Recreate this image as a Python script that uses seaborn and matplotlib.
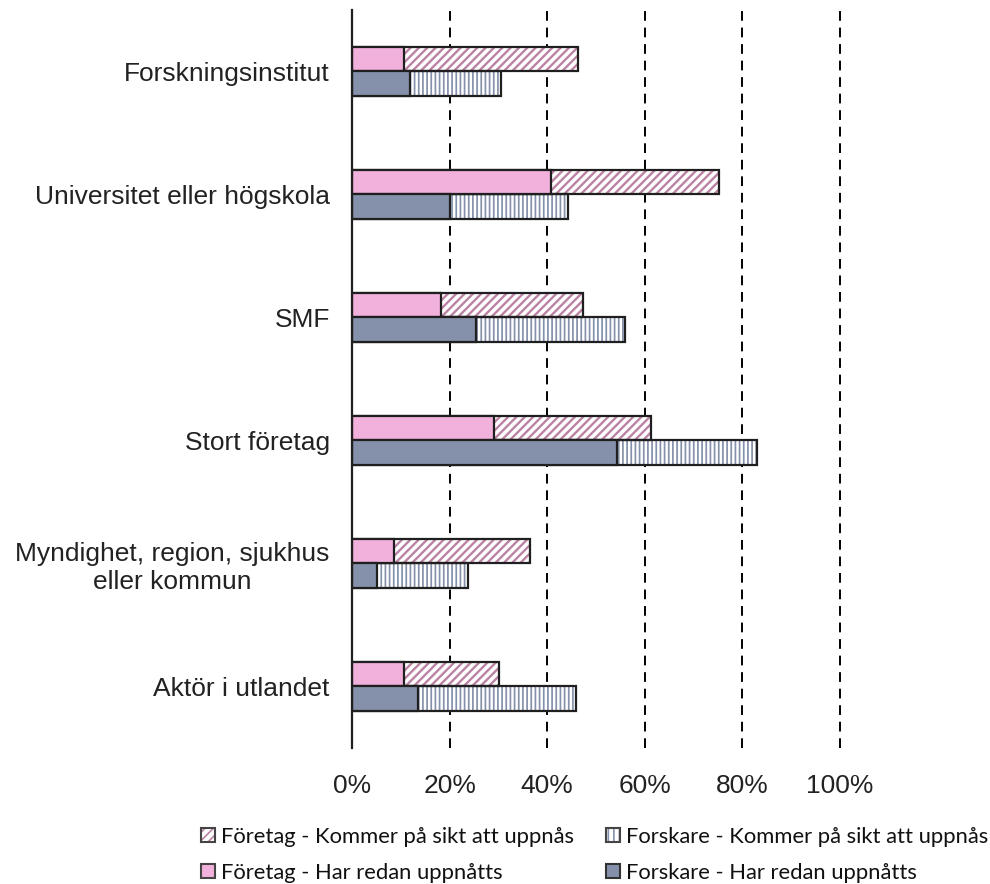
#!/usr/bin/env python3
"""
Samverkan: uppnått och förväntat, företag vs forskare
"""

import pandas as pd
import matplotlib.pyplot as plt
import seaborn as sns
from matplotlib.patches import Patch, Rectangle
from matplotlib.legend_handler import HandlerTuple
from matplotlib.ticker import PercentFormatter

# Data (andelar i %)
kategorier = ['Forskningsinstitut', 'Universitet eller högskola', 'SMF',
              'Stort företag', 'Myndighet, region, sjukhus\neller kommun',
              'Aktör i utlandet']
foretag_redan = [10.7, 40.8, 18.2, 29.1, 8.6, 10.7]
foretag_totalt = [46.3, 75.2, 47.3, 61.3, 36.5, 30.1]
forskare_redan = [11.9, 20.1, 25.4, 54.3, 5.1, 13.5]
forskare_totalt = [30.5, 44.3, 55.9, 83.0, 23.8, 45.9]
grupper = ['Företag', 'Forskare']

sns.set_theme(style='white')
plt.rcParams['font.family'] = ['Liberation Sans', 'DejaVu Sans']
plt.rcParams['hatch.linewidth'] = 1.2

PINK = '#F2B1DC'
PINK_HATCH = '#BC82A3'
BLUE = '#8591AB'
EDGE = '#1f1f1f'

df = pd.DataFrame({
    'kategori': kategorier * 2,
    'grupp': [grupper[0]] * 6 + [grupper[1]] * 6,
    'redan': foretag_redan + forskare_redan,
    'totalt': foretag_totalt + forskare_totalt,
})

fig = plt.figure(figsize=(9.9, 8.84), dpi=100)
ax = fig.add_axes([0.3556, 0.154, 0.4929, 0.835])

# Totals (hatched "kommer på sikt") drawn first
sns.barplot(data=df, y='kategori', x='totalt', hue='grupp', hue_order=grupper,
            order=kategorier, dodge=True, width=0.4, legend=False,
            palette=[PINK_HATCH, BLUE], saturation=1, ax=ax)
total_patches = list(ax.patches)
for p in total_patches:
    hc = p.get_facecolor()
    is_pink = abs(hc[0] - 0.737) < 0.05
    p.set_facecolor('white')
    p.set_edgecolor(hc)
    p.set_hatch('////' if is_pink else '||||')
    if hasattr(p, 'set_hatch_linewidth'):
        p.set_hatch_linewidth(1.7 if is_pink else 1.25)
    p.set_linewidth(0)
    ax.add_patch(Rectangle(p.get_xy(), p.get_width(), p.get_height(),
                           fill=False, edgecolor=EDGE, linewidth=1.6, zorder=3))

# Already achieved (solid) on top
sns.barplot(data=df, y='kategori', x='redan', hue='grupp', hue_order=grupper,
            order=kategorier, dodge=True, width=0.4, legend=False,
            palette=[PINK, BLUE], saturation=1, edgecolor=EDGE, linewidth=1.6,
            ax=ax)
for p in ax.patches[len(total_patches):]:
    p.set_zorder(4)

ax.set_xlim(0, 100)
ax.set_ylim(5.5, -0.5)
ax.set_xticks([0, 20, 40, 60, 80, 100])
ax.xaxis.set_major_formatter(PercentFormatter(decimals=0))
ax.set_xlabel('')
ax.set_ylabel('')
ax.tick_params(axis='x', length=0, pad=19, labelsize=19, colors='#222222')
ax.tick_params(axis='y', length=0, pad=16, labelsize=19, colors='#222222')
for lab in ax.get_yticklabels():
    lab.set_multialignment('center')

ax.set_axisbelow(True)
ax.xaxis.grid(True, color='black', linestyle=(0, (5, 3.5)), linewidth=1.4)
ax.yaxis.grid(False)
gl = ax.get_xgridlines()
gl[0].set_visible(False)
gl[-1].set_clip_on(False)

for s in ['top', 'right', 'bottom']:
    ax.spines[s].set_visible(False)
ax.spines['left'].set_color(EDGE)
ax.spines['left'].set_linewidth(1.6)
ax.spines['left'].set_zorder(5)

handles = [
    (Patch(facecolor='white', edgecolor=PINK_HATCH, hatch='////', linewidth=0),
     Patch(fill=False, edgecolor='#444444', linewidth=1.5)),
    Patch(facecolor=PINK, edgecolor='#444444', linewidth=1.5),
    (Patch(facecolor='white', edgecolor=BLUE, hatch='|||', linewidth=0),
     Patch(fill=False, edgecolor='#444444', linewidth=1.5)),
    Patch(facecolor=BLUE, edgecolor='#333333', linewidth=1.5),
]
labels = ['Företag - Kommer på sikt att uppnås', 'Företag - Har redan uppnåtts',
          'Forskare - Kommer på sikt att uppnås', 'Forskare - Har redan uppnåtts']
leg = fig.legend(handles=handles, labels=labels, ncol=2, loc='lower left',
                 handler_map={tuple: HandlerTuple(ndivide=1, pad=0)},
                 bbox_to_anchor=(0.203, 0.0015), frameon=False,
                 borderaxespad=0, borderpad=0,
                 prop={'family': ['Lato', 'DejaVu Sans'], 'size': 15.8},
                 handlelength=0.62, handleheight=0.62, handletextpad=0.3,
                 columnspacing=1.45, labelspacing=0.71)
for t in leg.get_texts():
    t.set_color('#111111')

fig.savefig('out.png', dpi=100)
